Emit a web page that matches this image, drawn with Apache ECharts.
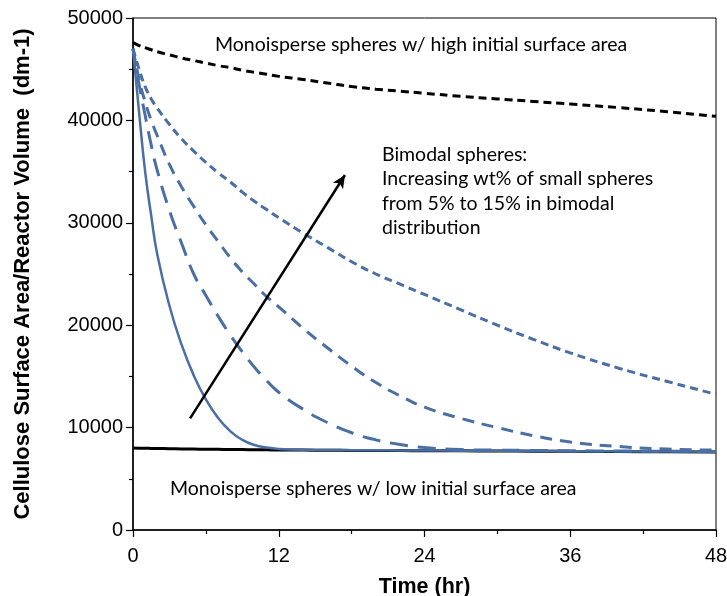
<!DOCTYPE html>
<html>
<head>
<meta charset="utf-8">
<script src="https://cdn.jsdelivr.net/npm/echarts@6/dist/echarts.min.js"></script>
<style>
  html, body { margin: 0; padding: 0; background: #fff; }
  #chart { width: 727px; height: 596px; }
</style>
</head>
<body>
<div id="chart"></div>
<script>
// Time points (hr) shared by every curve
const timeHours = [0, 0.5, 1, 1.5, 2, 3, 4, 5, 6, 7, 8, 9, 10, 11, 12, 14, 16, 18, 20, 22, 24, 27, 30, 33, 36, 40, 44, 48];

// Monodisperse spheres
const monoHigh = [47600, 47300, 47100, 46900, 46700, 46400, 46100, 45850, 45600, 45350, 45150, 44900, 44700, 44500, 44300, 44000, 43650, 43300, 43050, 42850, 42650, 42350, 42100, 41850, 41600, 41250, 40850, 40400];
const monoLow = [8000, 7990, 7980, 7970, 7960, 7940, 7920, 7905, 7890, 7875, 7860, 7850, 7840, 7830, 7820, 7805, 7790, 7775, 7765, 7755, 7745, 7730, 7715, 7700, 7680, 7660, 7640, 7620];

// Bimodal spheres, from lowest to highest wt% of small spheres
const bimodalA = [47000, 40800, 35000, 30700, 26900, 21900, 18100, 15100, 12750, 10950, 9650, 8800, 8300, 8050, 7920, 7830, 7810, 7795, 7785, 7775, 7765, 7750, 7735, 7720, 7700, 7680, 7660, 7640];
const bimodalB = [47000, 43500, 40500, 37600, 35100, 31200, 28000, 25000, 22900, 20900, 19050, 17400, 15900, 14600, 13450, 11800, 10500, 9500, 8800, 8350, 8050, 7850, 7800, 7770, 7740, 7710, 7690, 7670];
const bimodalC = [47000, 44000, 41800, 40000, 38500, 35700, 33500, 31600, 29800, 28200, 26600, 25200, 24000, 22800, 21800, 19700, 17800, 16000, 14400, 13100, 12000, 10900, 10000, 9200, 8600, 8150, 7900, 7800];
const bimodalD = [47000, 45000, 43300, 42100, 41200, 39600, 38200, 37000, 35900, 34900, 34000, 33000, 32100, 31300, 30500, 29000, 27600, 26200, 25000, 24000, 23000, 21500, 20000, 18600, 17300, 15800, 14500, 13250];

// Trend arrow endpoints [time, value]
const trendArrow = [[4.7, 10900], [17.45, 34670]];

// Axis ticks
const xTicks = [0, 12, 24, 36, 48];
const yTicks = [0, 10000, 20000, 30000, 40000, 50000];

const pair = vals => timeHours.map((t, i) => [t, vals[i]]);
const blue = '#4a6fa5';
const noteFont = 'Lato, "Open Sans", sans-serif';
const axisFont = '"Liberation Sans", Arial, sans-serif';

function curve(name, vals, color, width, dash) {
  return {
    name, type: 'line', data: pair(vals), smooth: 0.5,
    showSymbol: false, symbol: 'none', silent: true,
    lineStyle: { color, width, type: dash || 'solid', cap: 'butt' },
    z: 3
  };
}

const chart = echarts.init(document.getElementById('chart'), null, { renderer: 'canvas' });
chart.setOption({
  animation: false,
  backgroundColor: '#fff',
  grid: {
    left: 133, right: 11, top: 18, bottom: 66,
    outerBoundsMode: 'none', containLabel: false,
    show: true, borderColor: '#000', borderWidth: 1
  },
  xAxis: {
    type: 'value', min: xTicks[0], max: xTicks[xTicks.length - 1], interval: 12,
    name: 'Time (hr)', nameLocation: 'middle', nameGap: 46,
    nameTextStyle: { fontFamily: axisFont, fontWeight: 'bold', fontSize: 21.5, color: '#000' },
    axisLine: { lineStyle: { color: '#000', width: 1.5 } },
    axisTick: { inside: false, length: 7, lineStyle: { color: '#000', width: 1.2 } },
    minorTick: { show: true, splitNumber: 2, length: 4, lineStyle: { color: '#000', width: 1.2 } },
    axisLabel: { margin: 16, fontFamily: axisFont, fontSize: 20, color: '#000', formatter: v => String(v) },
    splitLine: { show: false }
  },
  yAxis: {
    type: 'value', min: yTicks[0], max: yTicks[yTicks.length - 1], interval: 10000,
    name: 'Cellulose Surface Area/Reactor Volume  (dm-1)', nameLocation: 'middle', nameGap: 99, nameRotate: 90,
    nameTextStyle: { fontFamily: axisFont, fontWeight: 'bold', fontSize: 22, color: '#000' },
    axisLine: { show: true, lineStyle: { color: '#000', width: 1.5 } },
    axisTick: { show: true, inside: false, length: 7, lineStyle: { color: '#000', width: 1.2 } },
    minorTick: { show: true, splitNumber: 2, length: 4, lineStyle: { color: '#000', width: 1.2 } },
    axisLabel: { margin: 10, fontFamily: axisFont, fontSize: 20, color: '#000', formatter: v => String(v) },
    splitLine: { show: false }
  },
  series: [
    curve('Monodisperse, low', monoLow, '#000', 3),
    curve('Monodisperse, high', monoHigh, '#000', 3, [8, 5]),
    curve('Bimodal 5%', bimodalA, blue, 2.5),
    curve('Bimodal B', bimodalB, blue, 3, [18, 10]),
    curve('Bimodal C', bimodalC, blue, 3, [12, 8]),
    curve('Bimodal 15%', bimodalD, blue, 3, [8, 5]),
    {
      name: 'trend', type: 'line', data: [], silent: true,
      markLine: {
        silent: true, animation: false,
        symbol: ['none', 'arrow'], symbolSize: [9, 13],
        label: { show: false },
        lineStyle: { color: '#000', width: 2.5, type: 'solid' },
        data: [[{ coord: trendArrow[0] }, { coord: trendArrow[1] }]]
      },
      z: 5
    }
  ],
  graphic: [
    { type: 'text', left: 215, top: 35, style: { text: 'Monoisperse spheres w/ high initial surface area', font: '19.5px ' + noteFont, fill: '#000' } },
    { type: 'text', left: 170, top: 479, style: { text: 'Monoisperse spheres w/ low initial surface area', font: '19.5px ' + noteFont, fill: '#000' } },
    { type: 'text', left: 382, top: 142, style: {
        text: 'Bimodal spheres:\nIncreasing wt% of small spheres\nfrom 5% to 15% in bimodal\ndistribution',
        font: '19.5px ' + noteFont, lineHeight: 24.5, fill: '#000' } }
  ]
});
</script>
</body>
</html>
